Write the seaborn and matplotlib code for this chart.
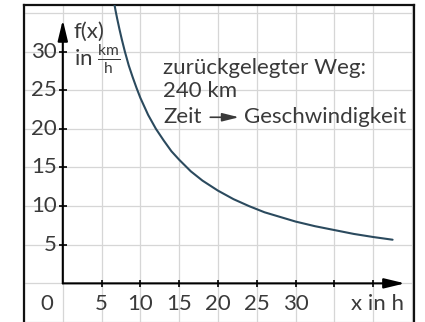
import numpy as np
import pandas as pd
import seaborn as sns
import matplotlib
matplotlib.use("Agg")
import matplotlib.pyplot as plt

# values (time in h, speed in km/h)
zeit = [6.6, 6.8, 7.0, 7.3, 7.6, 8.0, 8.5, 9.0, 9.5, 10.0, 11.0, 12.0, 13.0, 14.0,
        15.0, 16.5, 18.0, 20.0, 22.0, 24.0, 26.0, 28.0, 30.0, 32.5, 35.0, 37.5, 40.0, 42.5]
geschw = [36.4, 35.3, 34.3, 32.9, 31.6, 30.0, 28.2, 26.7, 25.3, 24.0, 21.8, 20.0, 18.5, 17.1,
          16.0, 14.5, 13.3, 12.0, 10.9, 10.0, 9.2, 8.6, 8.0, 7.4, 6.9, 6.4, 6.0, 5.65]

x_ticks = [5, 10, 15, 20, 25, 30, 35, 40]
x_labels = ["5", "10", "15", "20", "25", "30", "", ""]
y_ticks = [5, 10, 15, 20, 25, 30]
y_labels = ["5", "10", "15", "20", "25", "30"]

sns.set_style("white")
plt.rcParams["font.family"] = ["Lato", "DejaVu Sans"]
plt.rcParams["mathtext.fontset"] = "custom"
plt.rcParams["mathtext.rm"] = "Lato"
plt.rcParams["mathtext.sf"] = "Lato"

txt = "#3a3a3a"
fs = 16

fig = plt.figure(figsize=(4.25, 3.22), dpi=100)
ax = fig.add_axes([24 / 425, 0, (414 - 24) / 425, (322 - 5) / 322])
ax.set_xlim(-4.74, 45.26)
ax.set_ylim(-4.62, 36.03)

# background grid
ax.set_xticks(np.arange(-5, 50, 5))
ax.set_yticks(np.arange(-5, 40, 5))
ax.grid(True, color="#d6d6d6", lw=0.9)
ax.tick_params(length=0, labelbottom=False, labelleft=False)
for s in ["left", "top", "right"]:
    ax.spines[s].set_color("#111111")
    ax.spines[s].set_linewidth(1.6)
ax.spines["bottom"].set_visible(False)

df = pd.DataFrame({"x": zeit, "f": geschw})
sns.lineplot(data=df, x="x", y="f", ax=ax, color="#2b4a5e", lw=1.5, zorder=3)
ax.set_xlabel("")
ax.set_ylabel("")

# coordinate axes with arrows
arr = dict(arrowstyle="-|>,head_length=1.25,head_width=0.3", color="black", lw=1.5,
           shrinkA=0, shrinkB=0, mutation_scale=10)
ax.annotate("", xy=(0, 34.1), xytext=(0, 0), arrowprops=arr, zorder=4)
ax.annotate("", xy=(44.1, 0), xytext=(0, 0), arrowprops=arr, zorder=4)

ax.vlines(x_ticks, -0.5, 0.5, color="black", lw=1.2, zorder=4)
ax.hlines(y_ticks, -0.5, 0.5, color="black", lw=1.2, zorder=4)

for xv, lab in zip(x_ticks, x_labels):
    ax.text(xv, -2.7, lab, ha="center", va="center", fontsize=fs, color=txt)
for yv, lab in zip(y_ticks, y_labels):
    ax.text(-0.8, yv, lab, ha="right", va="center", fontsize=fs, color=txt)
ax.text(-2.05, -2.7, "0", ha="center", va="center", fontsize=fs, color=txt)
ax.text(40.5, -2.7, "x in h", ha="center", va="center", fontsize=fs, color=txt)

ax.text(1.4, 32.6, "f(x)", ha="left", va="center", fontsize=fs, color=txt)
ax.text(1.4, 29.0, r"in $\frac{\mathsf{km}}{\mathsf{h}}$", ha="left", va="center",
        fontsize=fs, color=txt)

ax.text(12.95, 27.05, "zurückgelegter Weg:", ha="left", va="baseline", fontsize=fs, color=txt)
ax.text(12.95, 24.1, "240 km", ha="left", va="baseline", fontsize=fs, color=txt)
ax.text(12.95, 20.77, "Zeit", ha="left", va="baseline", fontsize=fs, color=txt)
ax.annotate("", xy=(22.7, 21.5), xytext=(19.0, 21.5),
            arrowprops=dict(arrowstyle="-|>,head_length=1.0,head_width=0.25", color=txt,
                            lw=1.2, shrinkA=0, shrinkB=0, mutation_scale=10))
ax.text(23.3, 20.77, "Geschwindigkeit", ha="left", va="baseline", fontsize=fs, color=txt)

fig.savefig("out.png", dpi=100)
